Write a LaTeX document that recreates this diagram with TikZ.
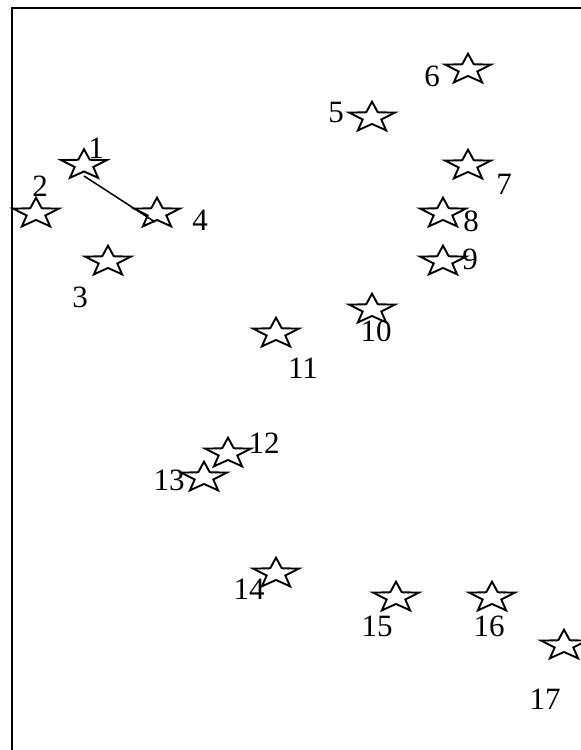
\documentclass[tikz,border=0pt]{standalone}
\usepackage{fontspec}
\setmainfont{Liberation Serif}
\usetikzlibrary{shapes.geometric}
\tikzset{
  starnode/.style={star, star points=5, star point ratio=2.45, draw=black, line width=1.9pt,
    minimum size=48pt, inner sep=0pt, yscale=0.66, transform shape, fill=none},
  numlabel/.style={inner sep=0pt, anchor=center, font=\fontsize{31}{31}\selectfont},
  frame/.style={draw=black, line width=1.6pt},
  link/.style={draw=black, line width=1.5pt}
}
\begin{document}
\begin{tikzpicture}[x=1pt,y=-1pt]
\useasboundingbox (0,0) rectangle (581,750);
\draw[frame] (11.8,8.2) rectangle (600,770);
% stars
\node[starnode] (s1) at (84,165) {};
\node[starnode] (s2) at (36,213.5) {};
\node[starnode] (s3) at (108,261.5) {};
\node[starnode] (s4) at (157,213.5) {};
\node[starnode] (s5) at (372,117.5) {};
\node[starnode] (s6) at (468,69.5) {};
\node[starnode] (s7) at (468,165.5) {};
\node[starnode] (s8) at (443,213.5) {};
\node[starnode] (s9) at (443,261.5) {};
\node[starnode] (s10) at (372,309.5) {};
\node[starnode] (s11) at (276,333.5) {};
\node[starnode] (s12) at (228,453.5) {};
\node[starnode] (s13) at (204,477.5) {};
\node[starnode] (s14) at (276,573.5) {};
\node[starnode] (s15) at (396,597.5) {};
\node[starnode] (s16) at (492,597.5) {};
\node[starnode] (s17) at (564,645.5) {};
% labels
\node[numlabel] (l1) at (96,148) {1};
\node[numlabel] (l2) at (40,186) {2};
\node[numlabel] (l3) at (80,297) {3};
\node[numlabel] (l4) at (200,220) {4};
\node[numlabel] (l5) at (336,112) {5};
\node[numlabel] (l6) at (432,76) {6};
\node[numlabel] (l7) at (504,184) {7};
\node[numlabel] (l8) at (471,221) {8};
\node[numlabel] (l9) at (470,259) {9};
\node[numlabel] (l10) at (376,331) {10};
\node[numlabel] (l11) at (303,368) {11};
\node[numlabel] (l12) at (264,443) {12};
\node[numlabel] (l13) at (169,480) {13};
\node[numlabel] (l14) at (249,589) {14};
\node[numlabel] (l15) at (377,626) {15};
\node[numlabel] (l16) at (489,626) {16};
\node[numlabel] (l17) at (545,699) {17};
% connector
\draw[link] ([yshift=-11pt]s1.center) -- ([xshift=-2pt,yshift=-8.5pt]s4.center);
\end{tikzpicture}
\end{document}
